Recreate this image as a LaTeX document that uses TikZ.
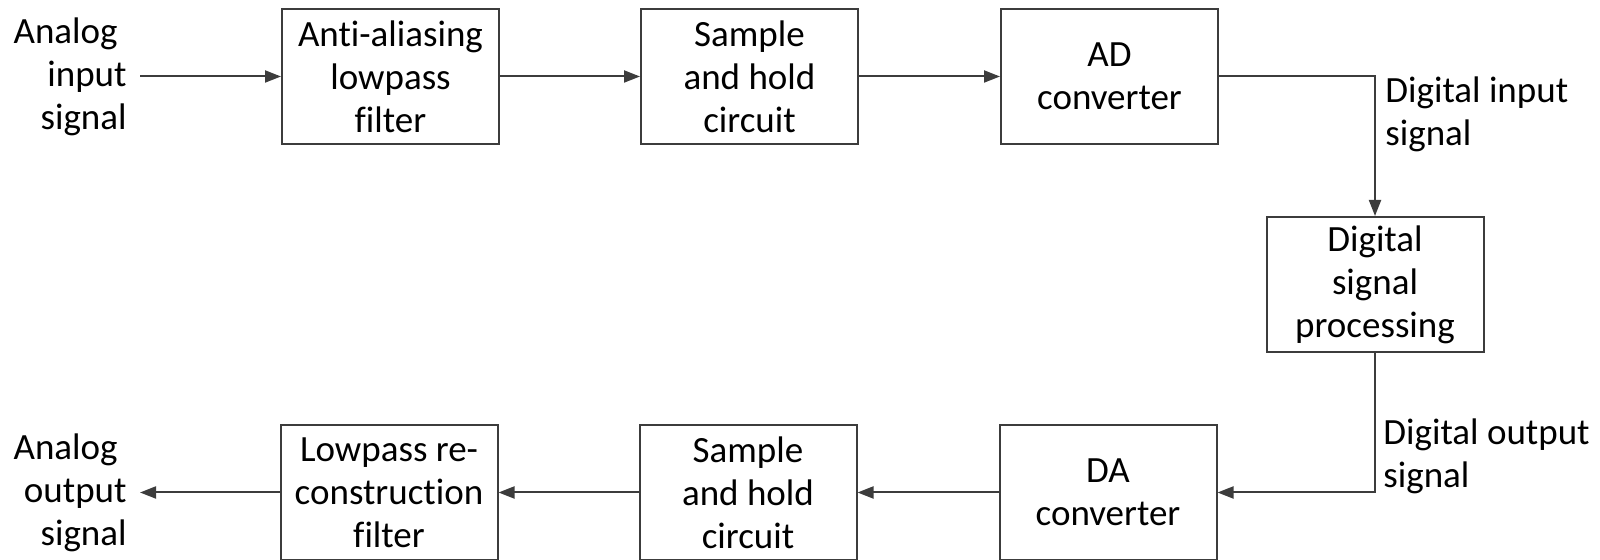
\documentclass[tikz,border=0pt]{standalone}
\usepackage{fontspec}
\setmainfont{Carlito}[Ligatures={NoCommon}]
\usetikzlibrary{positioning,arrows.meta}
\definecolor{linec}{HTML}{3C3C3C}
\newcommand{\diagfont}{\fontsize{18.5pt}{21.5pt}\selectfont}

\begin{document}
\begin{tikzpicture}[x=0.5pt,y=0.5pt,
	block/.style={draw=linec, line width=1pt, minimum width=108.5pt, minimum height=67.5pt, align=center, inner sep=0pt, font=\diagfont},
	sig/.style={align=right, inner xsep=6.5pt, inner ysep=0pt, font=\diagfont},
	note/.style={align=left, inner sep=0pt, font=\diagfont},
	conn/.style={draw=linec, line width=1pt, -{Triangle[length=8pt,width=6pt]}}]
	\useasboundingbox (0,0) rectangle (1600,560);
	
	% upper chain
	\node[block] (aa) at (390.5,483.5) {Anti-aliasing\\lowpass\\filter};
	\node[block, right=70pt of aa] (sh1) {Sample\\and hold\\circuit};
	\node[block, right=70.5pt of sh1] (ad) {AD\\converter};
	\node[sig, anchor=east] (ain) at (140,483.5) {Analog\kern4.5pt\\input\\signal};
	
	\node[block] (dsp) at (1375,275.5) {Digital\\signal\\processing};
	
	% lower chain
	\node[block] (da) at (1108,67.5) {DA\\converter};
	\node[block, left=70.5pt of da] (sh2) {Sample\\and hold\\circuit};
	\node[block, left=70pt of sh2] (lp) {Lowpass re-\\construction\\filter};
	\node[sig, anchor=east] (aout) at (140,67.5) {Analog\kern4.5pt\\output\\signal};
	
	\node[note, anchor=west] (din) at (1385,446) {Digital input\\signal};
	\node[note, anchor=west] (dout) at (1383,104) {Digital output\\signal};
	
	\draw[conn] (ain) -- (aa);
	\draw[conn] (aa) -- (sh1);
	\draw[conn] (sh1) -- (ad);
	\draw[conn] (ad) -| (dsp);
	\draw[conn] (dsp) |- (da);
	\draw[conn] (da) -- (sh2);
	\draw[conn] (sh2) -- (lp);
	\draw[conn] (lp) -- (aout);
\end{tikzpicture}
\end{document}
